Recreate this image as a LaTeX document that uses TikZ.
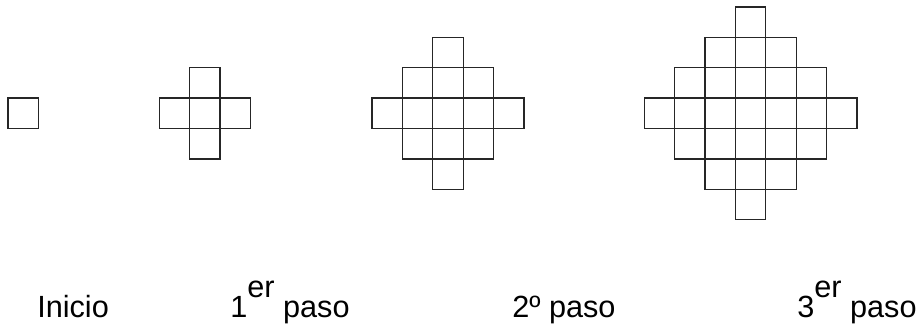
\documentclass[tikz,border=0pt]{standalone}
\usepackage{fontspec}
\setmainfont{Liberation Sans}
\newcommand{\sobre}[1]{\raisebox{14.3pt}{#1}}
\begin{document}
\begin{tikzpicture}[x=0.75pt,y=-0.75pt,cell/.style={draw=black!85,line width=1pt},rotulo/.style={anchor=base west,inner sep=0pt,font=\fontsize{23}{27}\selectfont}]
\useasboundingbox (0,0) rectangle (923,325);
% figuras: cuadrados con |i|+|j| <= n
\foreach \n/\cx in {0/23.3,1/204.8,2/448,3/750.6}{
  \foreach \i in {-\n,...,\n}{
    \pgfmathtruncatemacro\m{\n-abs(\i)}
    \foreach \j in {-\m,...,\m}
      \draw[cell] ({\cx+(\i-0.5)*30.4},{113.3+(\j-0.5)*30.4}) rectangle ++(30.4,30.4);
  }
}
\node[rotulo] (inicio) at (37,317) {Inicio};
\node[rotulo] (paso1) at (230,317) {1\sobre{er} paso};
\node[rotulo] (paso2) at (512,317) {2º paso};
\node[rotulo] (paso3) at (797,317) {3\sobre{er} paso};
\end{tikzpicture}
\end{document}
